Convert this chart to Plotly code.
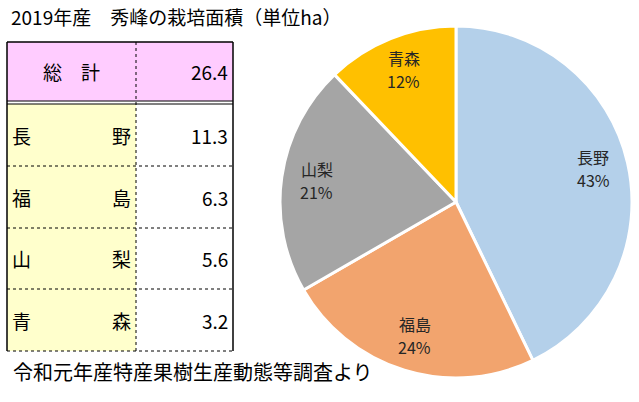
import math
import plotly.graph_objects as go

# データ
title = "2019年産　秀峰の栽培面積（単位ha）"
source = "令和元年産特産果樹生産動態等調査より"
total_label = "総　計"
total_value = 26.4
prefs = ["長野", "福島", "山梨", "青森"]
areas = [11.3, 6.3, 5.6, 3.2]
pie_colors = ["#B4D0EA", "#F2A46E", "#A5A5A5", "#FFC000"]

W, H = 639, 402
JP = "Noto Sans CJK JP"


def px(x):
    return x / W


def py(y):
    return 1 - y / H


shapes = []
annotations = []

# 表の枠 (px)
x0, xm, x1 = 7, 136, 233
top, head_bot = 42, 101
rows = [104, 166, 228, 289, 351]


def rect(xa, ya, xb, yb, fill):
    shapes.append(dict(type="rect", xref="paper", yref="paper",
                       x0=px(xa), x1=px(xb), y0=py(yb), y1=py(ya),
                       fillcolor=fill, line=dict(width=0), layer="below"))


def hline(y, xa, xb, dash="solid", width=1):
    shapes.append(dict(type="line", xref="paper", yref="paper",
                       x0=px(xa), x1=px(xb), y0=py(y), y1=py(y),
                       line=dict(color="black", width=width, dash=dash)))


def vline(x, ya, yb, dash="solid", width=1):
    shapes.append(dict(type="line", xref="paper", yref="paper",
                       x0=px(x), x1=px(x), y0=py(ya), y1=py(yb),
                       line=dict(color="black", width=width, dash=dash)))


rect(x0, top, x1, head_bot, "#FFCCFF")
rect(x0, rows[0], xm, rows[-1], "#FFFFCC")

hline(head_bot, x0, x1)
hline(rows[0], x0, x1)
for y in rows[1:]:
    hline(y, x0, x1, dash="dot")
vline(xm, top, rows[-1], dash="dot")
hline(top, x0, x1, width=1.5)
vline(x0, top, rows[-1], width=1.5)
vline(x1, top, rows[-1], width=1.5)

cell_font = dict(family=JP, size=19, color="black")

annotations.append(dict(x=px((x0 + xm) / 2), y=py((top + head_bot) / 2), text=total_label,
                        xanchor="center", yanchor="middle", font=cell_font))
annotations.append(dict(x=px(x1 - 3), y=py((top + head_bot) / 2), text=f"{total_value:.1f}",
                        xanchor="right", yanchor="middle", font=cell_font))

for i, (name, val) in enumerate(zip(prefs, areas)):
    yc = (rows[i] + rows[i + 1]) / 2
    annotations.append(dict(x=px(x0 + 3), y=py(yc), text=name[0],
                            xanchor="left", yanchor="middle", font=cell_font))
    annotations.append(dict(x=px(xm - 3), y=py(yc), text=name[1],
                            xanchor="right", yanchor="middle", font=cell_font))
    annotations.append(dict(x=px(x1 - 3), y=py(yc), text=f"{val:.1f}",
                            xanchor="right", yanchor="middle", font=cell_font))

annotations.append(dict(x=px(9), y=py(17), text=title, xanchor="left", yanchor="middle",
                        font=dict(family=JP, size=19, color="black")))
annotations.append(dict(x=px(11), y=py(371), text=source, xanchor="left", yanchor="middle",
                        font=dict(family=JP, size=20, color="black")))

# 円グラフのラベル（扇形の中心角から配置）
cx, cy, R = 456, 202, 176
tot = sum(areas)
lab_font = dict(family=JP, size=16, color="#262626")
cum = 0
for name, val in zip(prefs, areas):
    mid = (cum + val / 2) / tot * 2 * math.pi
    cum += val
    lx = cx + 0.8 * R * math.sin(mid)
    ly = cy - 0.8 * R * math.cos(mid) - 2
    annotations.append(dict(x=px(lx), y=py(ly - 11), text=name,
                            xanchor="center", yanchor="middle", font=lab_font))
    annotations.append(dict(x=px(lx), y=py(ly + 12), text=f"{round(val / tot * 100)}%",
                            xanchor="center", yanchor="middle", font=lab_font))

for a in annotations:
    a.update(xref="paper", yref="paper", showarrow=False)

fig = go.Figure(go.Pie(
    labels=prefs, values=areas, sort=False, direction="clockwise", rotation=0,
    marker=dict(colors=pie_colors, line=dict(color="white", width=3)),
    textinfo="none",
    domain=dict(x=[px(cx - R), px(cx + R)], y=[py(cy + R), py(cy - R)]),
    showlegend=False,
))

fig.update_layout(
    width=W, height=H,
    margin=dict(l=0, r=0, t=0, b=0),
    paper_bgcolor="white", plot_bgcolor="white",
    shapes=shapes, annotations=annotations,
)

fig.write_html("out.html", config={"displayModeBar": False},
               post_script="document.body.style.margin='0';")
